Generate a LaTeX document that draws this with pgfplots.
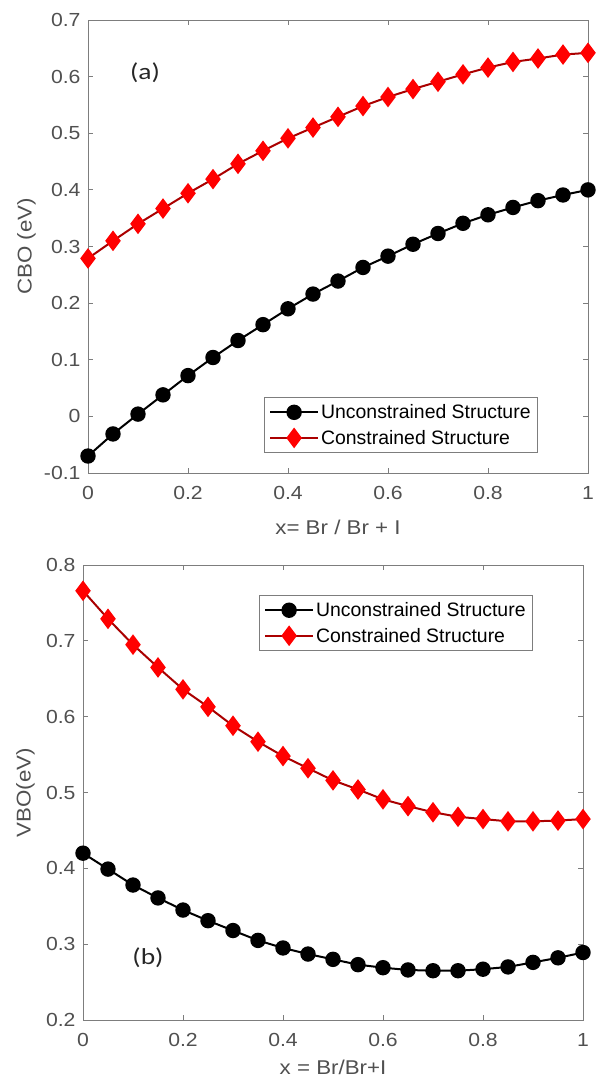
\documentclass[border=0pt]{standalone}
\usepackage{pgfplots}
\pgfplotsset{compat=1.18}
\usepackage{fontspec}
\setmainfont{Liberation Sans}
\newfontfamily\widesans[FakeStretch=1.12]{Liberation Sans}
\newfontfamily\calib[FakeStretch=1.2]{Carlito}
\definecolor{axgray}{RGB}{125,125,125}
\definecolor{tickgray}{RGB}{80,80,80}
\definecolor{myred}{RGB}{255,0,0}
\definecolor{redline}{RGB}{170,0,0}

\pgfplotstableread{
x cbo_u cbo_c
0.00 -0.070 0.279
0.05 -0.031 0.310
0.10 0.004 0.340
0.15 0.038 0.367
0.20 0.072 0.394
0.25 0.104 0.419
0.30 0.134 0.446
0.35 0.162 0.469
0.40 0.190 0.491
0.45 0.216 0.510
0.50 0.239 0.529
0.55 0.263 0.548
0.60 0.283 0.564
0.65 0.304 0.578
0.70 0.323 0.591
0.75 0.341 0.604
0.80 0.356 0.616
0.85 0.369 0.626
0.90 0.381 0.632
0.95 0.391 0.639
1.00 0.400 0.642
}\cbotable

\pgfplotstableread{
x vbo_u vbo_c
0.00 0.420 0.766
0.05 0.399 0.729
0.10 0.378 0.695
0.15 0.361 0.665
0.20 0.345 0.636
0.25 0.331 0.613
0.30 0.318 0.588
0.35 0.305 0.567
0.40 0.295 0.548
0.45 0.287 0.532
0.50 0.280 0.516
0.55 0.273 0.504
0.60 0.269 0.491
0.65 0.266 0.482
0.70 0.265 0.474
0.75 0.265 0.468
0.80 0.267 0.465
0.85 0.270 0.462
0.90 0.276 0.462
0.95 0.282 0.463
1.00 0.289 0.465
}\vbotable

\pgfplotsset{
 mystyle/.style={
  scale only axis, width=500bp,
  xmin=0, xmax=1, xtick={0,0.2,0.4,0.6,0.8,1},
  axis line style={axgray, line width=0.8bp},
  tick style={axgray, line width=0.8bp},
  major tick length=5bp,
  tick align=inside,
  /pgf/number format/assume math mode=true,
  ticklabel style={font=\widesans\fontsize{19}{19}\selectfont, text=tickgray},
  xticklabel style={yshift=-10bp},
  yticklabel style={xshift=-4bp},
  label style={font=\widesans\fontsize{20}{20}\selectfont, text=tickgray},
  legend style={font=\fontsize{19.5}{19.5}\selectfont, draw=axgray, line width=0.8bp, inner sep=5bp, row sep=6bp},
  legend cell align=left,
  legend image code/.code={\draw[line width=2bp, mark repeat=2,mark phase=2] plot coordinates {(0bp,0bp) (24bp,0bp) (48bp,0bp)};},
 },
 blk/.style={black, line width=2bp, mark=*, mark size=6.7bp, mark options={solid, fill=black}},
 rd/.style={redline, line width=2bp, mark=diamond*, mark size=8.7bp, mark options={solid, fill=myred, draw=myred}},
}

\begin{document}
\begin{tikzpicture}
\useasboundingbox (0,0) rectangle (598bp,-1084bp);

\begin{axis}[mystyle,
  at={(88bp,-473bp)}, anchor=south west,
  height=453bp,
  ymin=-0.1, ymax=0.7, ytick={-0.1,0,0.1,0.2,0.3,0.4,0.5,0.6,0.7},
  xlabel={x= Br / Br + I}, ylabel={CBO (eV)},
  xlabel style={at={(axis description cs:0.5,-0.121)}, anchor=center},
  ylabel style={at={(axis description cs:-0.123,0.5)}, anchor=center},
  legend style={at={(0.9,0.044)}, anchor=south east},
]
\addplot[blk] table[x=x, y=cbo_u] {\cbotable};
\addlegendentry{Unconstrained Structure}
\addplot[rd] table[x=x, y=cbo_c] {\cbotable};
\addlegendentry{Constrained Structure}
\node[font=\calib\fontsize{23}{23}\selectfont, text=black!85] at (axis cs:0.114,0.607) {(a)};
\end{axis}

\begin{axis}[mystyle,
  at={(83bp,-1020bp)}, anchor=south west,
  height=455bp,
  ymin=0.2, ymax=0.8, ytick={0.2,0.3,0.4,0.5,0.6,0.7,0.8},
  xlabel={x = Br/Br+I}, ylabel={VBO(eV)},
  xlabel style={at={(axis description cs:0.5,-0.103)}, anchor=center},
  ylabel style={at={(axis description cs:-0.115,0.5)}, anchor=center},
  legend style={at={(0.9,0.934)}, anchor=north east},
]
\addplot[blk] table[x=x, y=vbo_u] {\vbotable};
\addlegendentry{Unconstrained Structure}
\addplot[rd] table[x=x, y=vbo_c] {\vbotable};
\addlegendentry{Constrained Structure}
\node[font=\calib\fontsize{23}{23}\selectfont, text=black!85] at (axis cs:0.13,0.282) {(b)};
\end{axis}
\end{tikzpicture}
\end{document}
